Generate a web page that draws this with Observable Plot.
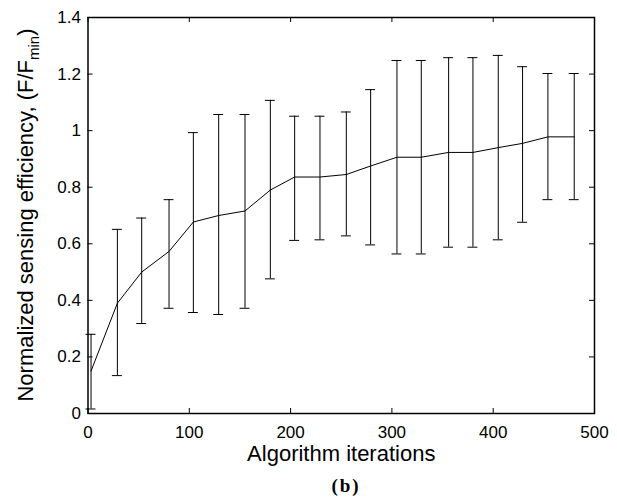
<!DOCTYPE html>
<html><head><meta charset="utf-8">
<script src="https://cdn.jsdelivr.net/npm/d3@7"></script>
<script src="https://cdn.jsdelivr.net/npm/@observablehq/plot@0.6"></script>
<style>
body{margin:0;background:#fff;}
#wrap{position:relative;width:617px;height:497px;overflow:hidden;background:#fff;}
#cap{position:absolute;left:296px;top:476px;width:100px;text-align:center;font:bold 19px "Liberation Serif","Times New Roman",serif;line-height:19px;letter-spacing:2px;color:#000;}
</style></head><body><div id="wrap"></div>
<script>
const iterations = [3, 29, 53, 80, 104, 129, 155, 180, 204, 229, 255, 279, 305, 329, 356, 380, 405, 429, 454, 480];
const efficiency = [0.15, 0.39, 0.50, 0.573, 0.677, 0.70, 0.716, 0.79, 0.836, 0.836, 0.845, 0.875, 0.906, 0.906, 0.923, 0.923, 0.94, 0.955, 0.978, 0.978];
const upper = [0.28, 0.651, 0.691, 0.756, 0.993, 1.057, 1.057, 1.107, 1.051, 1.051, 1.066, 1.145, 1.248, 1.248, 1.258, 1.258, 1.266, 1.226, 1.202, 1.202];
const lower = [0.016, 0.134, 0.318, 0.372, 0.357, 0.350, 0.372, 0.476, 0.612, 0.614, 0.628, 0.596, 0.564, 0.564, 0.588, 0.588, 0.614, 0.676, 0.756, 0.756];
const xTicks = [0, 100, 200, 300, 400, 500];
const yTicks = [0, 0.2, 0.4, 0.6, 0.8, 1, 1.2, 1.4];
const xLabel = "Algorithm iterations";
const yLabelMain = "Normalized sensing efficiency, (F/F";
const yLabelSub = "min";
const yLabelEnd = ")";
const caption = "(b)";

const data = iterations.map((x, i) => ({x, y: efficiency[i], lo: lower[i], hi: upper[i]}));
const W = 617, H = 470, mT = 17, mB = 57, mL = 87.5, mR = 23;
const frameH = H - mT - mB;
const frameW = W - mL - mR;
const tick = 5;
const capHalf = 4.9;
const font = "'Liberation Sans', Arial, Helvetica, sans-serif";

const plot = Plot.plot({
  width: W, height: H,
  marginTop: mT, marginBottom: mB, marginLeft: mL, marginRight: mR,
  style: {fontFamily: font, fontSize: "17px", color: "#000", background: "#fff", overflow: "visible"},
  x: {domain: [0, 500]},
  y: {domain: [0, 1.4]},
  marks: [
    Plot.ruleX(data, {x: "x", y1: "lo", y2: "hi", stroke: "#000", strokeWidth: 1}),
    Plot.ruleY(data, {y: "hi", x1: d => d.x - capHalf, x2: d => d.x + capHalf, stroke: "#000", strokeWidth: 1}),
    Plot.ruleY(data, {y: "lo", x1: d => d.x - capHalf, x2: d => d.x + capHalf, stroke: "#000", strokeWidth: 1}),
    Plot.line(data, {x: "x", y: "y", stroke: "#000", strokeWidth: 1}),
    Plot.ruleX(xTicks, {x: d => d, insetTop: frameH - tick, stroke: "#000"}),
    Plot.ruleX(xTicks, {x: d => d, insetBottom: frameH - tick, stroke: "#000"}),
    Plot.ruleY(yTicks, {y: d => d, insetRight: frameW - tick, stroke: "#000"}),
    Plot.ruleY(yTicks, {y: d => d, insetLeft: frameW - tick, stroke: "#000"}),
    Plot.frame({stroke: "#000", strokeWidth: 1.5}),
    Plot.axisX(xTicks, {tickSize: 0, tickPadding: 12, label: null, tickFormat: d => String(d)}),
    Plot.axisY(yTicks, {tickSize: 0, tickPadding: 7, label: null, tickFormat: d => String(d)}),
    Plot.text([xLabel], {frameAnchor: "bottom", lineAnchor: "top", dy: 32, fontSize: 22, text: d => d, fill: "#000"})
  ]
});

const svg = d3.select(plot);
const t = svg.append("text")
  .attr("transform", `translate(33,${mT + frameH / 2}) rotate(-90)`)
  .attr("text-anchor", "middle")
  .attr("fill", "#000")
  .style("font-family", font)
  .style("font-size", "22px");
t.append("tspan").text(yLabelMain);
t.append("tspan").style("font-size", "15px").attr("dy", 6).text(yLabelSub);
t.append("tspan").attr("dy", -6).text(yLabelEnd);

const wrap = document.getElementById("wrap");
wrap.appendChild(plot);
const cap = document.createElement("div");
cap.id = "cap";
cap.textContent = caption;
wrap.appendChild(cap);
</script>
</body></html>
